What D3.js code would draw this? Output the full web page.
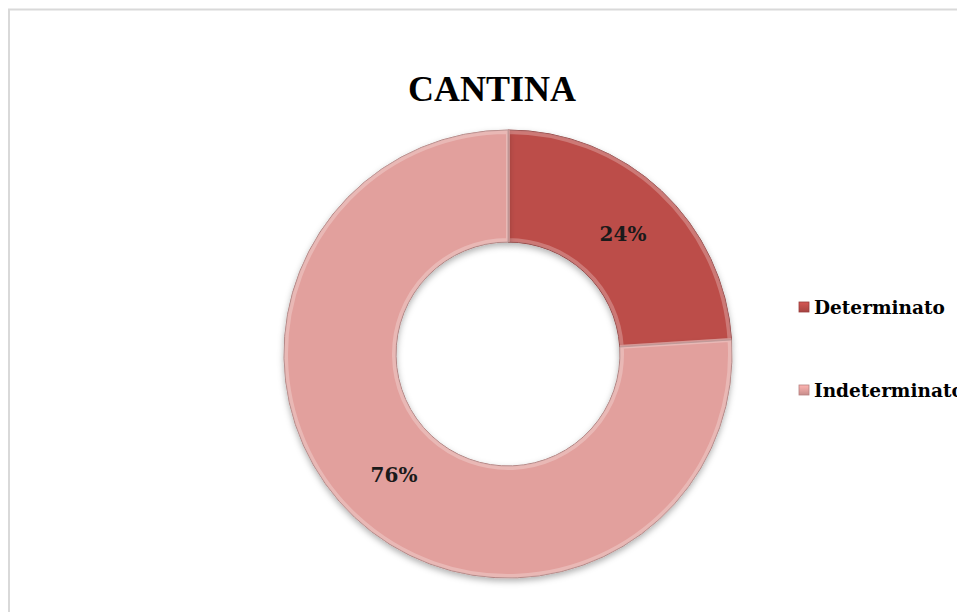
<!DOCTYPE html>
<html>
<head>
<meta charset="utf-8">
<script src="https://cdn.jsdelivr.net/npm/d3@7"></script>
<style>
  body { margin: 0; background: #fff; }
  svg { display: block; }
</style>
</head>
<body>
<svg id="chart" width="957" height="612"></svg>
<script>
const title = 'CANTINA';
const categories = ['Determinato', 'Indeterminato'];
const values = [24, 76];
const colors = ['#bc4d4a', '#e2a09d'];

const width = 957, height = 612;
const cx = 508, cy = 354;
const outerR = 224, innerR = 112;

const svg = d3.select('#chart');
const defs = svg.append('defs');

// soft shadow under the ring
const shadow = defs.append('filter').attr('id', 'shadow')
  .attr('x', '-20%').attr('y', '-20%').attr('width', '140%').attr('height', '140%');
shadow.append('feDropShadow')
  .attr('dx', 0).attr('dy', 3).attr('stdDeviation', 3)
  .attr('flood-color', '#000').attr('flood-opacity', 0.3);

colors.forEach((c, i) => {
  const g = defs.append('linearGradient').attr('id', 'lg' + i)
    .attr('x1', 0).attr('y1', 0).attr('x2', 0).attr('y2', 1);
  g.append('stop').attr('offset', '0%').attr('stop-color', d3.color(c).brighter(0.35));
  g.append('stop').attr('offset', '100%').attr('stop-color', d3.color(c).darker(0.35));
});

// chart frame
svg.append('rect')
  .attr('x', 9).attr('y', 9.5)
  .attr('width', width + 20).attr('height', height + 20)
  .attr('fill', 'none').attr('stroke', '#d9d9d9').attr('stroke-width', 2);

svg.append('text')
  .attr('x', 492).attr('y', 101)
  .attr('text-anchor', 'middle')
  .attr('font-family', 'Liberation Serif, serif')
  .attr('font-weight', 'bold')
  .attr('font-size', 36)
  .attr('fill', '#000')
  .text(title);

const pie = d3.pie().sort(null).value(d => d.value);
const data = pie(categories.map((c, i) => ({ name: c, value: values[i], i })));

const arc = d3.arc().innerRadius(innerR).outerRadius(outerR);
const bevelArc = d3.arc().innerRadius(innerR + 2).outerRadius(outerR - 2);

const g = svg.append('g').attr('transform', `translate(${cx},${cy})`);

const slices = g.selectAll('g.slice').data(data).join('g').attr('class', 'slice');

slices.append('path')
  .attr('d', arc)
  .attr('fill', d => colors[d.data.i])
  .attr('stroke', d => d3.color(colors[d.data.i]).darker(0.8))
  .attr('stroke-width', 1)
  .attr('filter', 'url(#shadow)');

// inner highlight to imitate the bevel
slices.append('path')
  .attr('d', bevelArc)
  .attr('fill', 'none')
  .attr('stroke', '#fff')
  .attr('stroke-opacity', 0.25)
  .attr('stroke-width', 4);

const labelPos = [[115, -113], [-114, 128]];

slices.append('text')
  .attr('x', (d, i) => labelPos[i][0])
  .attr('y', (d, i) => labelPos[i][1])
  .attr('text-anchor', 'middle')
  .attr('font-family', 'DejaVu Serif, serif')
  .attr('font-weight', 'bold')
  .attr('font-size', 20)
  .attr('fill', '#1a1a1a')
  .text(d => d.data.value + '%');

// legend
const legend = svg.append('g').attr('transform', 'translate(799,0)');
const legendY = [307, 390];
const items = legend.selectAll('g').data(categories).join('g')
  .attr('transform', (d, i) => `translate(0,${legendY[i]})`);

items.append('rect')
  .attr('x', 0).attr('y', -5).attr('width', 10).attr('height', 10)
  .attr('fill', (d, i) => `url(#lg${i})`)
  .attr('stroke', (d, i) => d3.color(colors[i]).darker(0.6))
  .attr('stroke-width', 0.8);

items.append('text')
  .attr('x', 15).attr('y', 6.5)
  .attr('font-family', 'DejaVu Serif, serif')
  .attr('font-weight', 'bold')
  .attr('font-size', 18.5)
  .attr('fill', '#000')
  .text(d => d);
</script>
</body>
</html>
